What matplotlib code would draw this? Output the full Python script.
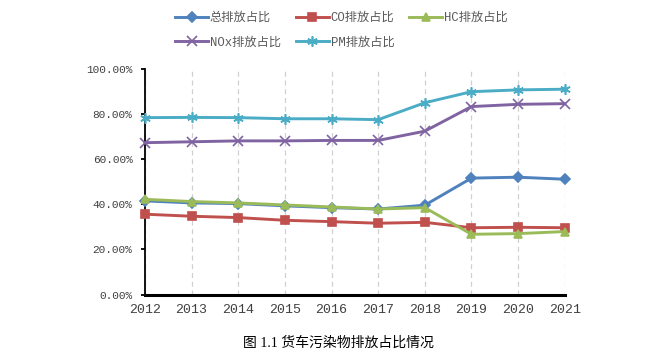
import matplotlib
matplotlib.use("Agg")
import matplotlib.pyplot as plt
from matplotlib.ticker import FuncFormatter

years = [2012, 2013, 2014, 2015, 2016, 2017, 2018, 2019, 2020, 2021]
total = [41.5, 40.6, 40.3, 39.3, 38.5, 37.9, 39.6, 51.6, 52.0, 51.1]
co = [35.6, 34.7, 34.1, 32.9, 32.3, 31.6, 32.0, 29.6, 29.8, 29.6]
hc = [42.2, 41.2, 40.6, 39.7, 38.8, 37.9, 38.5, 26.7, 27.0, 27.9]
nox = [67.3, 67.7, 68.1, 68.1, 68.3, 68.3, 72.4, 83.3, 84.3, 84.6]
pm = [78.4, 78.5, 78.4, 77.9, 77.9, 77.5, 85.0, 89.9, 90.7, 91.0]

labels = ["总排放占比", "CO排放占比", "HC排放占比", "NOx排放占比", "PM排放占比"]
colors = ["#4F81BD", "#C0504D", "#9BBB59", "#8064A2", "#4BACC6"]
markers = ["D", "s", "^", "x", (6, 2, 0)]
msizes = [4.8, 6.2, 6.2, 6.5, 7.5]
series = [total, co, hc, nox, pm]
caption = "图 1.1 货车污染物排放占比情况"

mono_cjk = ["Liberation Mono", "Noto Sans CJK SC"]

fig = plt.figure(figsize=(6.59, 3.57), dpi=100)
ax = fig.add_axes([0.22, 0.175, 0.637, 0.632])

handles = []
for vals, lab, c, m, ms in zip(series, labels, colors, markers, msizes):
    h, = ax.plot(years, vals, color=c, linewidth=2.1, marker=m, markersize=ms,
                 markerfacecolor=c, markeredgecolor=c, markeredgewidth=1.2,
                 label=lab, clip_on=False, zorder=3)
    handles.append(h)

ax.set_xlim(2012, 2021)
ax.set_ylim(0, 100)
ax.set_xticks(years)
ax.set_yticks([0, 20, 40, 60, 80, 100])
ax.yaxis.set_major_formatter(FuncFormatter(lambda v, p: f"{v:.2f}%"))

for s in ["top", "right"]:
    ax.spines[s].set_visible(False)
ax.spines["left"].set_color("black")
ax.spines["left"].set_linewidth(1.3)
ax.spines["bottom"].set_color("black")
ax.spines["bottom"].set_linewidth(2.2)

ax.xaxis.grid(True, color="#D0D0D0", linestyle=(0, (4, 3)), linewidth=0.9)
ax.yaxis.grid(False)
ax.set_axisbelow(True)

ax.tick_params(axis="x", length=0, pad=7, labelsize=9.5, labelcolor="#404040")
ax.tick_params(axis="y", length=3, width=1.3, direction="out", pad=6,
               labelsize=8, labelcolor="#404040")
for t in ax.get_xticklabels() + ax.get_yticklabels():
    t.set_family(mono_cjk)

order = [0, 3, 1, 4, 2]
leg = fig.legend(handles=[handles[i] for i in order],
                 labels=[labels[i] for i in order], loc="center", ncol=3,
                 bbox_to_anchor=(0.518, 0.915), frameon=False,
                 prop={"family": mono_cjk, "size": 8.8}, labelcolor="#595959",
                 handlelength=2.7, handletextpad=0.15, columnspacing=1.2,
                 labelspacing=1.05, numpoints=1)

fig.text(0.513, 0.04, caption, ha="center", va="center", fontsize=10,
         family=["Liberation Serif", "Noto Sans CJK SC"], color="black")

fig.savefig("out.png", dpi=100)
